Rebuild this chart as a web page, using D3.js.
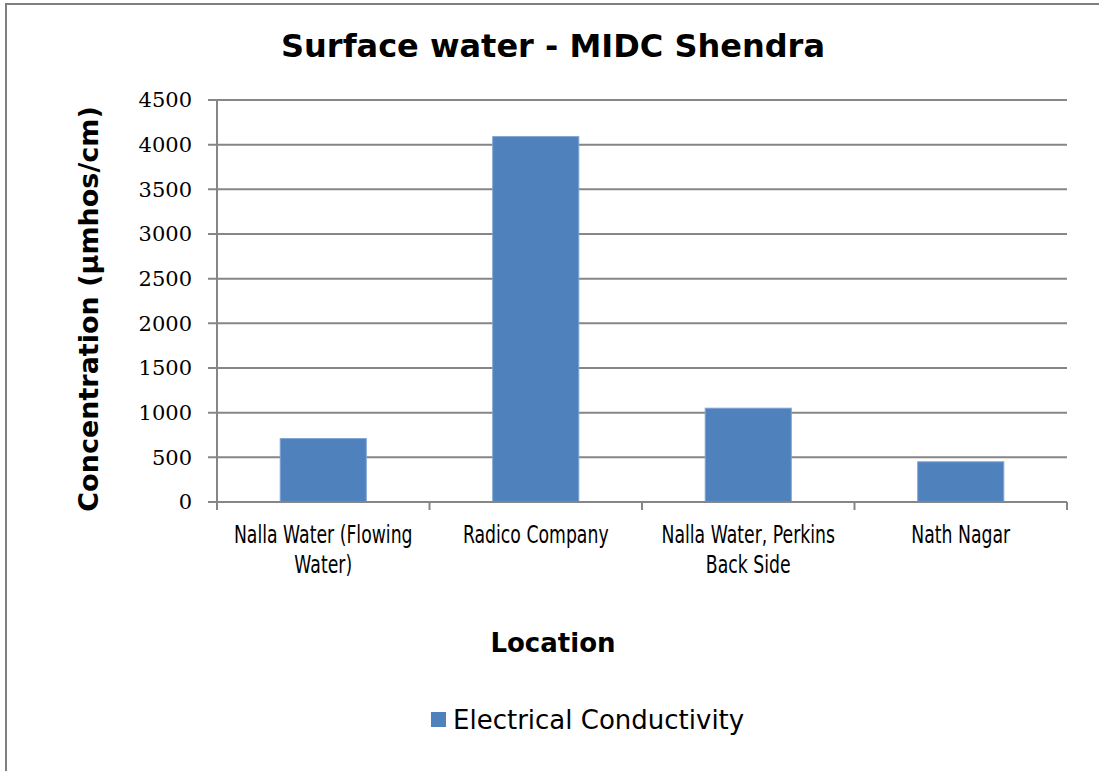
<!DOCTYPE html>
<html>
<head>
<meta charset="utf-8">
<script src="https://cdn.jsdelivr.net/npm/d3@7"></script>
<style>
  body { margin: 0; background: #fff; }
</style>
</head>
<body>
<div id="chart"></div>
<script>
// data
const locations = [
    ["Nalla Water (Flowing", "Water)"],
    ["Radico Company"],
    ["Nalla Water, Perkins", "Back Side"],
    ["Nath Nagar"]
];
const conductivity = [710, 4090, 1050, 450];
const yTicks = [0, 500, 1000, 1500, 2000, 2500, 3000, 3500, 4000, 4500];

const W = 1099, H = 771;
const margin = { top: 100, right: 32, bottom: 269, left: 217 },
    width = W - margin.left - margin.right,
    height = H - margin.top - margin.bottom;

const svg = d3.select("#chart")
    .append("svg")
    .attr("width", W)
    .attr("height", H);

// chart frame
svg.append("rect")
    .attr("x", 6).attr("y", 4)
    .attr("width", W + 10).attr("height", H + 10)
    .attr("fill", "none")
    .attr("stroke", "#7f7f7f")
    .attr("stroke-width", 2);

svg.append("text")
    .attr("x", 553).attr("y", 57)
    .attr("text-anchor", "middle")
    .style("font-family", "DejaVu Sans")
    .style("font-weight", "bold")
    .style("font-size", "32px")
    .text("Surface water - MIDC Shendra");

const g = svg.append("g")
    .attr("transform", `translate(${margin.left}, ${margin.top})`);

const idx = d3.range(locations.length);
const x = d3.scaleBand()
    .domain(idx)
    .range([0, width])
    .paddingInner(0.595)
    .paddingOuter(0.2975);

const y = d3.scaleLinear()
    .domain([0, 4500])
    .range([height, 0]);

// gridlines
g.append("g")
    .selectAll("line")
    .data(yTicks)
    .join("line")
    .attr("x1", -9)
    .attr("x2", width)
    .attr("y1", d => y(d))
    .attr("y2", d => y(d))
    .attr("stroke", "#868686")
    .attr("stroke-width", 2);

// y axis labels
g.append("g")
    .call(d3.axisLeft(y).tickValues(yTicks).tickFormat(d3.format("d")).tickSize(0).tickPadding(25))
    .call(a => a.select(".domain").remove())
    .call(a => a.selectAll("text")
        .style("font-family", "DejaVu Serif")
        .style("font-size", "21px")
        .attr("fill", "#000"));

// bars
g.append("g")
    .selectAll("rect")
    .data(conductivity)
    .join("rect")
    .attr("x", (d, i) => x(i))
    .attr("y", d => y(d))
    .attr("width", x.bandwidth())
    .attr("height", d => height - y(d))
    .attr("fill", "#4f81bd")
    .attr("stroke", "#7ea3d0")
    .attr("stroke-width", 1);

// y axis line
g.append("line")
    .attr("x1", 0).attr("x2", 0)
    .attr("y1", 0).attr("y2", height + 8)
    .attr("stroke", "#868686")
    .attr("stroke-width", 2);

// x axis line + category ticks
const step = width / locations.length;
g.append("line")
    .attr("x1", 0).attr("x2", width)
    .attr("y1", height).attr("y2", height)
    .attr("stroke", "#868686")
    .attr("stroke-width", 2);
g.append("g")
    .selectAll("line")
    .data(d3.range(locations.length + 1))
    .join("line")
    .attr("x1", d => d * step).attr("x2", d => d * step)
    .attr("y1", height).attr("y2", height + 8)
    .attr("stroke", "#868686")
    .attr("stroke-width", 2);

// category labels (narrow face, squeezed horizontally)
const labels = g.append("g")
    .selectAll("text")
    .data(locations)
    .join("text")
    .attr("text-anchor", "middle")
    .attr("transform", (d, i) => `translate(${x(i) + x.bandwidth() / 2}, ${height + 41}) scale(0.72, 1)`)
    .style("font-family", "DejaVu Sans")
    .style("font-size", "24px")
    .attr("fill", "#000");
labels.selectAll("tspan")
    .data(d => d)
    .join("tspan")
    .attr("x", 0)
    .attr("dy", (d, i) => i === 0 ? 0 : 30)
    .text(d => d);

// axis titles
svg.append("text")
    .attr("x", 553).attr("y", 652)
    .attr("text-anchor", "middle")
    .style("font-family", "DejaVu Sans")
    .style("font-weight", "bold")
    .style("font-size", "26px")
    .text("Location");

svg.append("text")
    .attr("transform", "translate(98, 309) rotate(-90)")
    .attr("text-anchor", "middle")
    .style("font-family", "DejaVu Sans")
    .style("font-weight", "bold")
    .style("font-size", "27px")
    .text("Concentration (µmhos/cm)");

// legend
svg.append("rect")
    .attr("x", 431).attr("y", 712)
    .attr("width", 15).attr("height", 15)
    .attr("fill", "#4f81bd");
svg.append("text")
    .attr("x", 453).attr("y", 729)
    .style("font-family", "DejaVu Sans")
    .style("font-size", "26px")
    .text("Electrical Conductivity");
</script>
</body>
</html>
